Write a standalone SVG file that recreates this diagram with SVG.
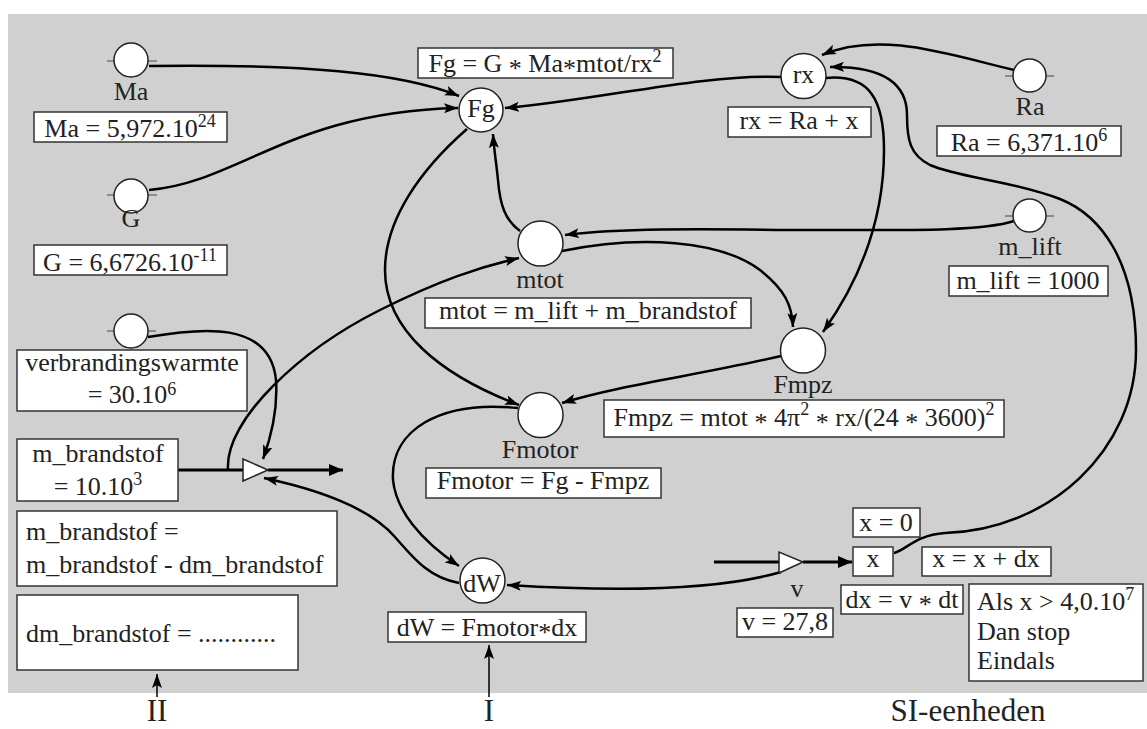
<svg xmlns="http://www.w3.org/2000/svg" width="1147" height="729" viewBox="0 0 1147 729">
<defs>
<marker id="ah" markerUnits="userSpaceOnUse" markerWidth="16" markerHeight="12" refX="14" refY="5" orient="auto">
<path d="M0,0 L14,5 L0,10 L3,5 z" fill="#000"/>
</marker>
<marker id="fh" markerUnits="userSpaceOnUse" markerWidth="16" markerHeight="14" refX="14" refY="6" orient="auto">
<path d="M0,0 L14,6 L0,12 z" fill="#000"/>
</marker>
</defs>
<style>
text{font-family:"Liberation Serif","Times New Roman",serif;font-size:26px;fill:#222}
.m{text-anchor:middle}
.box{fill:#fff;stroke:#333;stroke-width:1.5}
.cn{fill:#fff;stroke:#222;stroke-width:1.5}
.tick{stroke:#444;stroke-width:1.2}
.c{fill:none;stroke:#000;stroke-width:2.5;marker-end:url(#ah)}
.f{fill:none;stroke:#000;stroke-width:3}
.valve{fill:#fff;stroke:#222;stroke-width:1.5}
.big{font-size:31px}
</style>
<rect x="8" y="14" width="1139" height="679" fill="#d0d0d0"/>

<g id="connectors">
<path class="c" d="M149,66 C 300,64 400,72 459,96"/>
<path class="c" d="M149,190 C 240,182 290,112 458,108"/>
<path class="c" d="M781,77 C 700,74 600,100 505,108"/>
<path class="c" d="M1014,70 C 950,55 880,30 822,55"/>
<path class="c" d="M894,553 C 905,551 915,535 945,533 C 1050,530 1136,450 1136,350 C 1136,260 1100,215 1060,199 C 1010,180 960,178 930,165 C 910,155 907,140 907,115 C 907,85 885,66 830,67"/>
<path class="c" d="M826,78 C 870,74 884,100 884,150 C 884,220 860,280 823,332"/>
<path class="c" d="M520,231 C 505,220 500,205 498,180 C 496,160 494,150 493,134"/>
<path class="c" d="M1014,221 C 980,232 900,230 800,230 C 700,229 620,228 565,235"/>
<path class="c" d="M562,251 C 640,235 720,240 760,270 C 785,290 792,305 793,327"/>
<path class="c" d="M228,469 C 225,420 300,350 380,310 C 440,280 480,267 519,258"/>
<path class="c" d="M467,129 C 420,170 385,220 385,270 C 385,330 440,375 519,405"/>
<path class="c" d="M781,356 C 700,375 620,385 562,403"/>
<path class="c" d="M518,408 C 440,400 390,430 393,480 C 396,510 420,540 459,566"/>
<path class="c" d="M148,337 C 200,328 270,320 276,380 C 278,410 270,440 263,459"/>
<path class="c" d="M459,583 C 430,578 415,560 395,537 C 370,508 320,490 264,478"/>
<path class="c" d="M781,572 C 720,590 620,592 507,585"/>
<path class="f" d="M178,470 L243,470"/>
<path class="f" d="M268,470 L343,470" marker-end="url(#fh)"/>
<path class="f" d="M714,562 L779,562"/>
<path class="f" d="M803,562 L852,562" marker-end="url(#fh)"/>
<path d="M157,697 L157,674" stroke="#000" stroke-width="1.5" fill="none" marker-end="url(#ah)"/>
<path d="M489,697 L489,645" stroke="#000" stroke-width="1.5" fill="none" marker-end="url(#ah)"/>
</g>

<g id="Ma">
<line class="tick" x1="107" y1="61" x2="157" y2="61"/>
<circle class="cn" cx="131" cy="60" r="17"/>
<text class="m" x="131" y="100">Ma</text>
<rect class="box" x="34" y="112" width="193" height="30"/>
<text class="m" x="130" y="137">Ma = 5,972.10<tspan dy="-10" font-size="18">24</tspan></text>
</g>

<g id="G">
<line class="tick" x1="107" y1="195" x2="157" y2="195"/>
<circle class="cn" cx="131" cy="196" r="17"/>
<text class="m" x="131" y="227">G</text>
<rect class="box" x="34" y="245" width="193" height="30"/>
<text class="m" x="130" y="271">G = 6,6726.10<tspan dy="-10" font-size="18">-11</tspan></text>
</g>

<g id="Fg">
<rect class="box" x="418" y="48" width="255" height="30"/>
<text class="m" x="545" y="72">Fg = G <tspan dy="5">*</tspan><tspan dy="-5"> Ma</tspan><tspan dy="5">*</tspan><tspan dy="-5">mtot/rx</tspan><tspan dy="-10" font-size="18">2</tspan></text>
<circle class="cn" cx="481" cy="110" r="22"/>
<text class="m" x="481" y="117">Fg</text>
</g>

<g id="rx">
<circle class="cn" cx="803.5" cy="76" r="22.5"/>
<text class="m" x="803.5" y="83">rx</text>
<rect class="box" x="728" y="107" width="143" height="30"/>
<text class="m" x="799" y="129">rx = Ra + x</text>
</g>

<g id="Ra">
<line class="tick" x1="1005" y1="76" x2="1054" y2="76"/>
<circle class="cn" cx="1029.5" cy="75.5" r="16.5"/>
<text class="m" x="1030" y="115">Ra</text>
<rect class="box" x="937" y="126" width="184" height="30"/>
<text class="m" x="1029" y="151">Ra = 6,371.10<tspan dy="-10" font-size="18">6</tspan></text>
</g>

<g id="m_lift">
<line class="tick" x1="1005" y1="216" x2="1054" y2="216"/>
<circle class="cn" cx="1029.5" cy="215.5" r="16.5"/>
<text class="m" x="1030" y="255">m_lift</text>
<rect class="box" x="949" y="266" width="159" height="30"/>
<text class="m" x="1028" y="289">m_lift = 1000</text>
</g>

<g id="mtot">
<circle class="cn" cx="540.5" cy="243.5" r="22.5"/>
<text class="m" x="540" y="288">mtot</text>
<rect class="box" x="425" y="298" width="326" height="30"/>
<text class="m" x="588" y="319">mtot = m_lift + m_brandstof</text>
</g>

<g id="Fmpz">
<circle class="cn" cx="803" cy="350.5" r="22.5"/>
<text class="m" x="803" y="393">Fmpz</text>
<rect class="box" x="604" y="400" width="400" height="37"/>
<text class="m" x="804" y="426">Fmpz = mtot <tspan dy="5">*</tspan><tspan dy="-5"> 4π</tspan><tspan dy="-11" font-size="18">2</tspan><tspan dy="11"> </tspan><tspan dy="5">*</tspan><tspan dy="-5"> rx/(24 </tspan><tspan dy="5">*</tspan><tspan dy="-5"> 3600)</tspan><tspan dy="-11" font-size="18">2</tspan></text>
</g>

<g id="Fmotor">
<circle class="cn" cx="540.5" cy="415" r="22.5"/>
<text class="m" x="540" y="458">Fmotor</text>
<rect class="box" x="426" y="468" width="235" height="30"/>
<text class="m" x="543" y="489">Fmotor = Fg - Fmpz</text>
</g>

<g id="dW">
<circle class="cn" cx="482.5" cy="580.5" r="22.5"/>
<text class="m" x="482" y="592">dW</text>
<rect class="box" x="388" y="612" width="198" height="30"/>
<text class="m" x="487" y="636">dW = Fmotor<tspan dy="5">*</tspan><tspan dy="-5">dx</tspan></text>
</g>

<g id="verbrandingswarmte">
<line class="tick" x1="107" y1="331" x2="156" y2="331"/>
<circle class="cn" cx="131" cy="331" r="17"/>
<rect class="box" x="17" y="350" width="230" height="61"/>
<text class="m" x="132" y="371">verbrandingswarmte</text>
<text class="m" x="132" y="403">= 30.10<tspan dy="-8" font-size="18">6</tspan></text>
</g>

<g id="m_brandstof">
<rect class="box" x="17" y="439" width="161" height="62"/>
<text class="m" x="98" y="462">m_brandstof</text>
<text class="m" x="98" y="495">= 10.10<tspan dy="-10" font-size="18">3</tspan></text>
<polygon class="valve" points="243,459 243,481 268,470"/>
</g>

<g id="m_brandstof_update">
<rect class="box" x="17" y="511" width="320" height="75"/>
<text x="26" y="540">m_brandstof =</text>
<text x="26" y="573">m_brandstof - dm_brandstof</text>
</g>

<g id="dm_brandstof">
<rect class="box" x="17" y="595" width="281" height="75"/>
<text x="26" y="642">dm_brandstof = ............</text>
</g>

<g id="v">
<polygon class="valve" points="779,552 779,573 803,562"/>
<text class="m" x="797" y="597">v</text>
<rect class="box" x="737" y="608" width="96" height="29"/>
<text class="m" x="785" y="630">v = 27,8</text>
</g>

<g id="x">
<rect class="box" x="853" y="508" width="67" height="29"/>
<text class="m" x="886" y="531">x = 0</text>
<rect class="box" x="853" y="547" width="40" height="29"/>
<text class="m" x="873" y="567">x</text>
<rect class="box" x="922" y="547" width="129" height="29"/>
<text class="m" x="986" y="567">x = x + dx</text>
<rect class="box" x="841" y="585" width="122" height="29"/>
<text class="m" x="902" y="608">dx = v <tspan dy="5">*</tspan><tspan dy="-5"> dt</tspan></text>
</g>

<g id="stop">
<rect class="box" x="969" y="584" width="174" height="97"/>
<text x="977" y="610">Als x &gt; 4,0.10<tspan dy="-10" font-size="18">7</tspan></text>
<text x="977" y="640">Dan stop</text>
<text x="977" y="669">Eindals</text>
</g>

<g id="labels">
<text class="m big" x="157" y="721">II</text>
<text class="m big" x="489" y="721">I</text>
<text class="m big" x="968" y="721">SI-eenheden</text>
</g>
</svg>
